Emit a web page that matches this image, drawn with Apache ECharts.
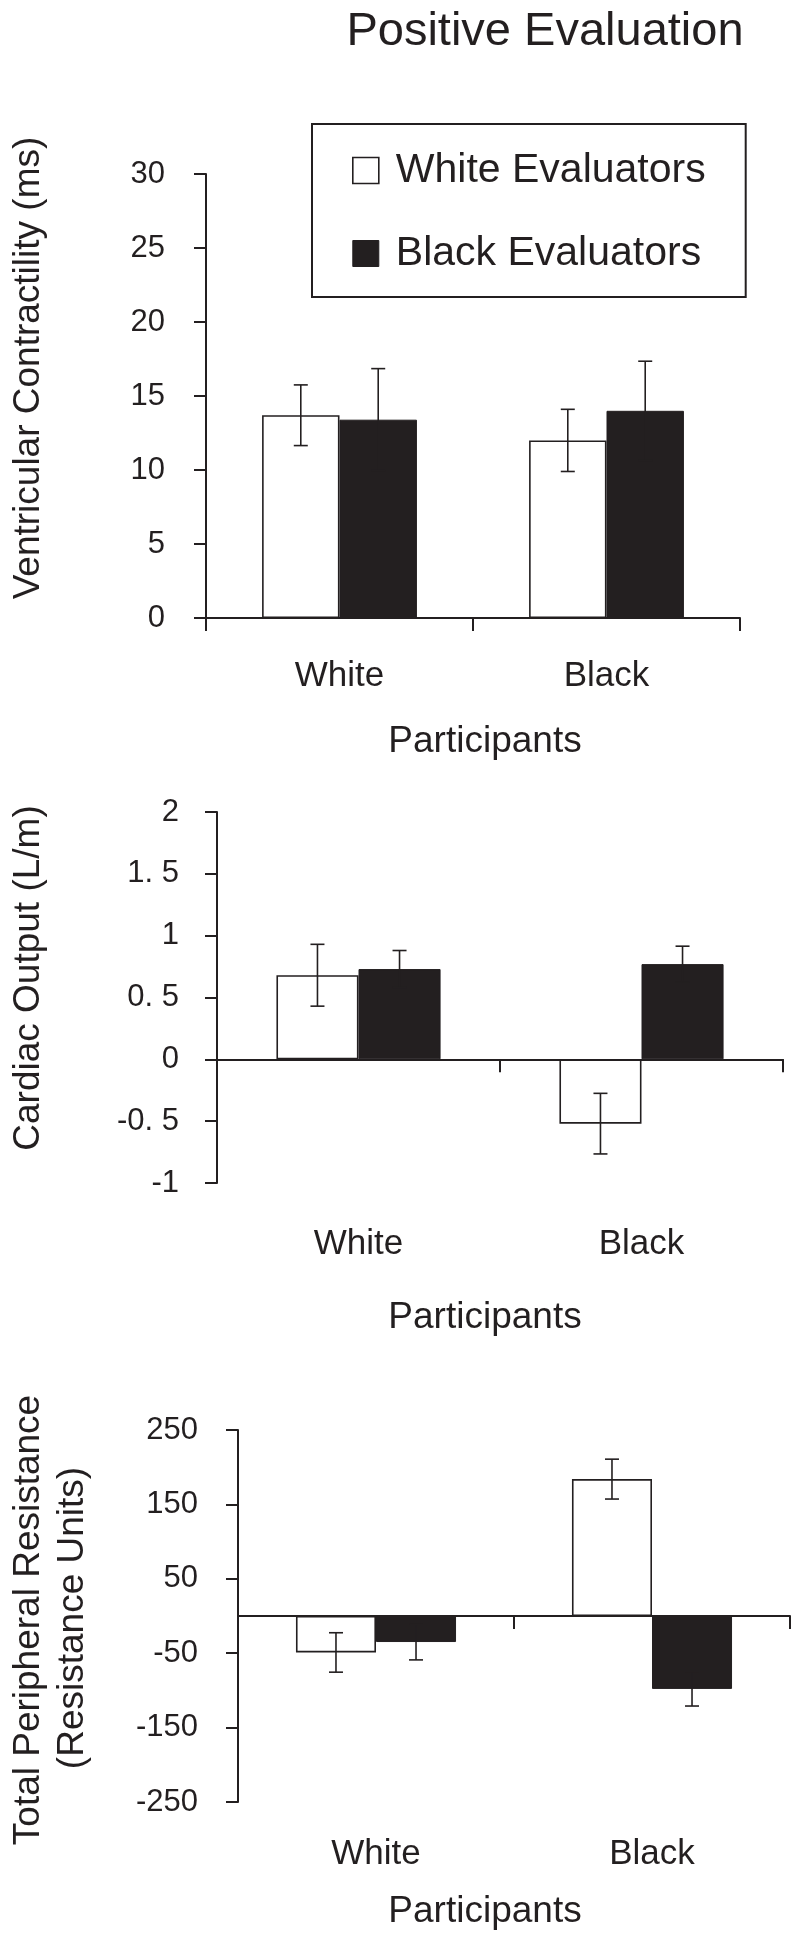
<!DOCTYPE html>
<html>
<head>
<meta charset="utf-8">
<script src="https://cdn.jsdelivr.net/npm/echarts@6/dist/echarts.min.js"></script>
<style>
html,body{margin:0;padding:0;background:#fff;}
#chart{width:800px;height:1941px;}
</style>
</head>
<body>
<div id="chart"></div>
<script>
// ---------- data ----------
const categories = ['White', 'Black'];
const seriesNames = ['White Evaluators', 'Black Evaluators'];

// Panel 1: Ventricular Contractility (ms)
const vcWhiteEval = [13.7, 12.0];
const vcWhiteEvalErr = [2.05, 2.1];
const vcBlackEval = [13.4, 14.0];
const vcBlackEvalErr = [3.45, 3.35];
const vcTicks = [0, 5, 10, 15, 20, 25, 30];
const vcTickLabels = ['0', '5', '10', '15', '20', '25', '30'];

// Panel 2: Cardiac Output (L/m)
const coWhiteEval = [0.68, -0.52];
const coWhiteEvalErr = [0.25, 0.245];
const coBlackEval = [0.73, 0.77];
const coBlackEvalErr = [0.15, 0.145];
const coTicks = [-1, -0.5, 0, 0.5, 1, 1.5, 2];
const coTickLabels = ['-1', '-0. 5', '0', '0. 5', '1', '1. 5', '2'];

// Panel 3: Total Peripheral Resistance
const tprWhiteEval = [-49, 184];
const tprWhiteEvalErr = [26.5, 26.8];
const tprBlackEval = [-35, -98];
const tprBlackEvalErr = [24, 23];
const tprTicks = [-250, -150, -50, 50, 150, 250];
const tprTickLabels = ['-250', '-150', '-50', '50', '150', '250'];

const titleText = 'Positive Evaluation';
const xAxisTitle = 'Participants';
const yTitles = [['Ventricular Contractility (ms)'], ['Cardiac Output (L/m)'], ['Total Peripheral Resistance', '(Resistance Units)']];

// ---------- styling / layout ----------
const INK = '#231f20';
const FONT = '"Liberation Sans", Arial, Helvetica, sans-serif';
const BAR_FRAC = 0.29;
const CAP = 7;

const panels = [
  { grid: { left: 206, top: 174, width: 534, height: 444 }, min: 0, max: 30,
    ticks: vcTicks, labels: vcTickLabels, labelMargin: 41, catMargin: 41,
    we: vcWhiteEval, weErr: vcWhiteEvalErr, be: vcBlackEval, beErr: vcBlackEvalErr,
    titlePos: [[29, 368]], partY: 742 },
  { grid: { left: 217, top: 812, width: 566, height: 371 }, min: -1, max: 2,
    ticks: coTicks, labels: coTickLabels, labelMargin: 38, catMargin: 44,
    we: coWhiteEval, weErr: coWhiteEvalErr, be: coBlackEval, beErr: coBlackEvalErr,
    titlePos: [[29, 978]], partY: 1318 },
  { grid: { left: 238, top: 1430, width: 552, height: 372 }, min: -250, max: 250,
    ticks: tprTicks, labels: tprTickLabels, labelMargin: 40, catMargin: 35,
    we: tprWhiteEval, weErr: tprWhiteEvalErr, be: tprBlackEval, beErr: tprBlackEvalErr,
    titlePos: [[29, 1620], [73, 1618]], partY: 1912 }
];

const grids = [], xAxes = [], yAxes = [], series = [], graphics = [];

graphics.push({ type: 'text', x: 545, y: 32, style: { text: titleText, fontSize: 47, fontFamily: FONT, fill: INK, align: 'center', verticalAlign: 'middle' } });

function errRender(offsetSign) {
  return function (params, api) {
    const cat = api.value(0), v = api.value(1), e = api.value(2);
    const c = api.coord([cat, v]);
    const band = api.size([1, 0])[0];
    const x = c[0] + offsetSign * band * BAR_FRAC / 2;
    const yTop = api.coord([cat, v + e])[1];
    const yBot = api.coord([cat, v - e])[1];
    const st = { stroke: INK, lineWidth: 1.6 };
    return { type: 'group', children: [
      { type: 'line', shape: { x1: x, y1: yTop, x2: x, y2: yBot }, style: st },
      { type: 'line', shape: { x1: x - CAP, y1: yTop, x2: x + CAP, y2: yTop }, style: st },
      { type: 'line', shape: { x1: x - CAP, y1: yBot, x2: x + CAP, y2: yBot }, style: st }
    ] };
  };
}

panels.forEach((p, i) => {
  grids.push(Object.assign({ containLabel: false }, p.grid));
  const lineAxisIdx = xAxes.length;
  xAxes.push({
    gridIndex: i, type: 'category', data: categories, position: 'bottom', boundaryGap: true,
    axisLine: { show: true, onZero: true, lineStyle: { color: INK, width: 2 } },
    axisTick: { show: true, length: 13, lineStyle: { color: INK, width: 2 } },
    axisLabel: { show: false }, splitLine: { show: false }
  });
  xAxes.push({
    gridIndex: i, type: 'category', data: categories, position: 'bottom', boundaryGap: true,
    axisLine: { show: false, onZero: false }, axisTick: { show: false },
    axisLabel: { show: true, margin: p.catMargin, fontSize: 35, lineHeight: 35, fontFamily: FONT, color: INK },
    splitLine: { show: false }
  });
  yAxes.push({
    gridIndex: i, type: 'value', min: p.min, max: p.max,
    axisLine: { show: true, lineStyle: { color: INK, width: 2 } },
    axisTick: { show: true, length: 12, customValues: p.ticks, lineStyle: { color: INK, width: 2 } },
    axisLabel: { show: true, customValues: p.ticks, margin: p.labelMargin, fontSize: 31, fontFamily: FONT, color: INK,
      formatter: (v) => { const k = p.ticks.findIndex(t => Math.abs(t - v) < 1e-9); return k >= 0 ? p.labels[k] : ''; } },
    splitLine: { show: false }
  });
  series.push({
    name: seriesNames[0], type: 'bar', xAxisIndex: lineAxisIdx, yAxisIndex: i, data: p.we,
    barWidth: (BAR_FRAC * 100) + '%', barGap: '0%',
    itemStyle: { color: '#ffffff', borderColor: INK, borderWidth: 1.6 }
  });
  series.push({
    name: seriesNames[1], type: 'bar', xAxisIndex: lineAxisIdx, yAxisIndex: i, data: p.be,
    barWidth: (BAR_FRAC * 100) + '%', barGap: '0%',
    itemStyle: { color: INK, borderColor: INK, borderWidth: 1 }
  });
  series.push({
    name: 'errWE' + i, type: 'custom', xAxisIndex: lineAxisIdx, yAxisIndex: i, z: 5,
    renderItem: errRender(-1), data: p.we.map((v, k) => [k, v, p.weErr[k]])
  });
  series.push({
    name: 'errBE' + i, type: 'custom', xAxisIndex: lineAxisIdx, yAxisIndex: i, z: 5,
    renderItem: errRender(1), data: p.be.map((v, k) => [k, v, p.beErr[k]])
  });
  yTitles[i].forEach((t, k) => {
    graphics.push({ type: 'text', x: p.titlePos[k][0], y: p.titlePos[k][1], rotation: Math.PI / 2,
      style: { text: t, fontSize: 37, fontFamily: FONT, fill: INK, align: 'center', verticalAlign: 'middle' } });
  });
  graphics.push({ type: 'text', x: 485, y: p.partY,
    style: { text: xAxisTitle, fontSize: 37, fontFamily: FONT, fill: INK, align: 'center', verticalAlign: 'middle' } });
});

const chart = echarts.init(document.getElementById('chart'), null, { renderer: 'canvas' });
chart.setOption({
  backgroundColor: '#ffffff',
  animation: false,
  textStyle: { fontFamily: FONT, color: INK },
  legend: {
    orient: 'vertical', left: 312, top: 124, selectedMode: false,
    padding: [26, 40, 23, 40], itemWidth: 26, itemHeight: 26, itemGap: 42,
    borderColor: INK, borderWidth: 2,
    textStyle: { fontSize: 41, lineHeight: 26, fontFamily: FONT, color: INK, padding: [0, 0, 0, 12] },
    data: [
      { name: seriesNames[0], icon: 'rect', itemStyle: { color: '#ffffff', borderColor: INK, borderWidth: 1.6 } },
      { name: seriesNames[1], icon: 'rect', itemStyle: { color: INK, borderColor: INK, borderWidth: 1 } }
    ]
  },
  grid: grids, xAxis: xAxes, yAxis: yAxes, series: series, graphic: graphics
});
</script>
</body>
</html>
